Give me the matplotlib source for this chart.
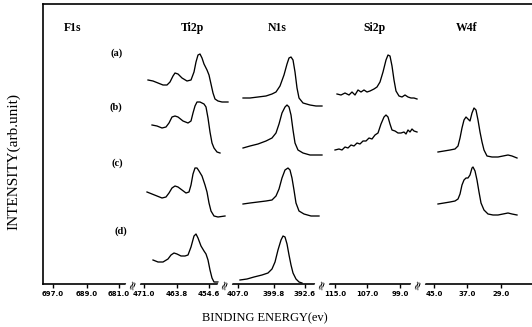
import numpy as np
import matplotlib
matplotlib.use("Agg")
import matplotlib.pyplot as plt

# ---------------- data ----------------
panels = ["F1s", "Ti2p", "N1s", "Si2p", "W4f"]
samples = ["(a)", "(b)", "(c)", "(d)"]
tick_energies = [697.0, 689.0, 681.0, 471.0, 463.8, 454.6, 407.0, 399.8, 392.6,
                 115.0, 107.0, 99.0, 45.0, 37.0, 29.0]
tick_labels = ["697.0", "689.0", "681.0", "471.0", "463.8", "454.6", "407.0", "399.8",
               "392.6", "115.0", "107.0", "99.0", "45.0", "37.0", "29.0"]

# Ti2p spectra (binding energy eV, intensity arb. unit incl. stacking)
ti2p_a_E = [470.0, 468.75, 467.5, 466.25, 465.25, 464.5, 463.75, 463.25, 462.5, 461.5, 460.25, 459.25,
            458.5, 458.0, 457.5, 457.0, 456.5, 456.0, 455.25, 454.75, 454.25, 453.75, 453.25, 452.5, 451.5, 450.0]
ti2p_a_I = [204, 203, 201, 199, 199, 202, 208, 211, 210, 206, 203, 204,
            212, 222, 229, 230, 226, 220, 214, 209, 200, 191, 185, 183, 182, 182]
ti2p_b_E = [469.0, 467.75, 466.5, 465.5, 464.75, 464.0, 463.25, 462.5, 461.25, 460.0, 459.25, 458.75,
            458.25, 457.75, 457.0, 456.0, 455.5, 455.0, 454.5, 454.0, 453.5, 452.75, 452.0]
ti2p_b_I = [159, 158, 156, 157, 161, 167, 168, 167, 163, 161, 163, 171,
            178, 182, 182, 180, 177, 166, 152, 141, 136, 132, 131]
ti2p_c_E = [470.25, 469.0, 467.75, 466.5, 465.5, 464.75, 464.0, 463.25, 462.5, 461.5, 460.5, 459.75, 459.25,
            458.75, 458.25, 457.75, 457.25, 456.5, 455.75, 455.25, 454.75, 454.25, 453.5, 452.5, 450.75]
ti2p_c_I = [92, 90, 88, 86, 87, 91, 96, 98, 97, 94, 91, 92, 99,
            110, 116, 116, 113, 108, 99, 92, 81, 73, 68, 67, 68]
ti2p_d_E = [468.75, 467.5, 466.25, 465.0, 464.25, 463.5, 462.75, 461.75, 460.75, 460.0, 459.25, 458.5,
            458.0, 457.5, 456.75, 456.0, 455.5, 455.0, 454.5, 454.0, 453.5, 452.5, 451.25]
ti2p_d_I = [24, 22, 22, 25, 29, 31, 30, 28, 28, 29, 37, 48,
            50, 46, 38, 33, 30, 24, 14, 6, 2, 2, 1]

# N1s spectra
n1s_a_E = [405.92, 404.42, 402.70, 400.98, 399.69, 398.83, 397.97, 397.11, 396.46, 396.03, 395.60,
           395.17, 394.74, 394.31, 393.88, 393.02, 391.52, 390.23, 388.94]
n1s_a_I = [186, 186, 187, 188, 190, 192, 198, 209, 220, 226, 227,
           224, 212, 196, 186, 181, 179, 178, 178]
n1s_b_E = [405.92, 404.42, 402.70, 400.98, 399.69, 398.83, 398.18, 397.54, 396.89, 396.46, 396.03,
           395.60, 395.17, 394.74, 394.10, 393.02, 391.52, 390.23, 388.94]
n1s_b_I = [136, 138, 140, 143, 146, 151, 160, 171, 177, 179, 177,
           169, 154, 141, 134, 131, 129, 129, 129]
n1s_c_E = [405.92, 404.42, 402.70, 400.98, 399.69, 398.83, 398.18, 397.54, 396.89, 396.25, 395.82,
           395.39, 394.96, 394.53, 393.88, 392.81, 391.30, 389.58]
n1s_c_I = [80, 81, 82, 83, 84, 88, 95, 106, 114, 116, 114,
           106, 94, 81, 73, 70, 68, 68]
n1s_d_E = [406.57, 405.06, 403.56, 401.84, 400.55, 399.69, 399.04, 398.40, 397.75, 397.32, 396.89,
           396.46, 396.03, 395.60, 395.17, 394.53, 393.88, 393.24]
n1s_d_I = [4, 5, 7, 9, 11, 15, 22, 34, 44, 48, 47,
           40, 29, 19, 11, 5, 2, 1]

# Si2p spectra
si2p_a_E = [114.5, 113.5, 112.5, 111.5, 110.75, 110.0, 109.25, 108.5, 107.75, 107.0, 106.25, 105.25, 104.5, 103.75,
            103.0, 102.25, 101.75, 101.25, 100.75, 100.25, 99.75, 99.0, 98.25, 97.5, 96.75, 96.0, 95.25, 94.5]
si2p_a_I = [190, 189, 191, 189, 192, 189, 194, 192, 194, 192, 193, 195, 197, 202,
            212, 224, 229, 228, 218, 204, 193, 188, 187, 189, 187, 186, 186, 185]
si2p_b_E = [115.0, 114.0, 113.25, 112.5, 111.75, 111.0, 110.25, 109.5, 108.75, 108.0, 107.25, 106.5, 105.75,
            105.0, 104.25, 103.5, 102.75, 102.25, 101.75, 101.25, 100.75, 100.0, 99.25, 98.5, 97.75, 97.25,
            96.75, 96.25, 95.75, 95.25, 94.5]
si2p_b_I = [134, 135, 134, 137, 136, 139, 138, 141, 140, 143, 143, 146, 145,
            149, 151, 160, 167, 169, 167, 160, 154, 153, 151, 151, 152, 150,
            154, 152, 155, 153, 152]

# W4f spectra
w4f_b_E = [44.05, 42.61, 41.18, 39.99, 39.27, 38.79, 38.32, 37.84, 37.36, 36.89, 36.41, 35.93, 35.45,
           34.98, 34.50, 34.02, 33.54, 33.07, 32.35, 31.16, 29.72, 28.53, 27.34, 26.38, 25.19]
w4f_b_I = [132, 133, 134, 135, 138, 146, 156, 164, 167, 165, 163, 171, 176,
           174, 164, 152, 142, 134, 128, 127, 127, 128, 129, 128, 126]
w4f_c_E = [44.05, 42.61, 41.18, 39.99, 39.27, 38.79, 38.32, 37.84, 37.36, 36.89, 36.41, 35.93, 35.69,
           35.21, 34.74, 34.26, 33.78, 33.07, 32.11, 30.92, 29.72, 28.53, 27.34, 26.38, 25.19]
w4f_c_I = [80, 81, 82, 83, 85, 90, 99, 104, 106, 106, 109, 116, 117,
           113, 104, 92, 81, 74, 70, 69, 69, 70, 71, 70, 69]

# ---------------- layout (broken energy axis) ----------------
tick_pos = [10, 44, 76, 101, 134, 166, 195, 231, 262, 292, 324, 357, 391, 424, 458]
# (reference energy, axis position, axis units per eV) for each axis segment
seg_map = {"Ti2p": (471.0, 101, 4.0), "N1s": (407.0, 195, 4.65),
           "Si2p": (115.0, 292, 4.0), "W4f": (45.0, 391, 4.19)}
break_pos = [90, 182, 279, 375]


def to_axis(panel, energies):
    e0, p0, k = seg_map[panel]
    return p0 + (e0 - np.asarray(energies, dtype=float)) * k


spectra = [
    ("Ti2p", ti2p_a_E, ti2p_a_I), ("Ti2p", ti2p_b_E, ti2p_b_I),
    ("Ti2p", ti2p_c_E, ti2p_c_I), ("Ti2p", ti2p_d_E, ti2p_d_I),
    ("N1s", n1s_a_E, n1s_a_I), ("N1s", n1s_b_E, n1s_b_I),
    ("N1s", n1s_c_E, n1s_c_I), ("N1s", n1s_d_E, n1s_d_I),
    ("Si2p", si2p_a_E, si2p_a_I), ("Si2p", si2p_b_E, si2p_b_I),
    ("W4f", w4f_b_E, w4f_b_I), ("W4f", w4f_c_E, w4f_c_I),
]

W, H = 532, 327
fig = plt.figure(figsize=(W / 100, H / 100), dpi=100)
ax = fig.add_axes([43 / W, 43 / H, 489 / W, 280 / H])
ax.set_xlim(0, 489)
ax.set_ylim(0, 280)

for panel, e, i in spectra:
    ax.plot(to_axis(panel, e), i, color="black", lw=0.95, solid_joinstyle="round")

ax.spines["right"].set_visible(False)
for s in ["left", "bottom", "top"]:
    ax.spines[s].set_linewidth(1.2)

ax.set_xticks(tick_pos)
ax.set_xticklabels(tick_labels, fontsize=5, fontweight="bold", family="DejaVu Sans")
ax.tick_params(axis="x", direction="out", length=3, width=1.0, pad=2)
ax.set_yticks([])

serif = ["Liberation Serif", "DejaVu Serif"]
title_x = [30, 149, 234, 331, 424]
for name, x in zip(panels, title_x):
    ax.text(x, 256, name, ha="center", va="center", fontsize=8.5, fontweight="bold", family=serif)

sample_xy = [(74, 231), (73, 177), (74, 121), (78, 53)]
for lab, (x, y) in zip(samples, sample_xy):
    ax.text(x, y, lab, ha="center", va="center", fontsize=7.5, fontweight="bold", family=serif)

for bx in break_pos:
    ax.text(bx, 0, "\u2248", ha="center", va="center", fontsize=9, rotation=70,
            bbox=dict(facecolor="white", edgecolor="none", pad=0.2), clip_on=False)

fig.text(265 / W, 1 - 318 / H, "BINDING ENERGY(ev)", ha="center", va="center",
         fontsize=9, family=serif)
fig.text(14 / W, 1 - 162 / H, "INTENSITY(arb.unit)", ha="center", va="center",
         fontsize=11, family=serif, rotation=90)

fig.savefig("out.png", dpi=100)
